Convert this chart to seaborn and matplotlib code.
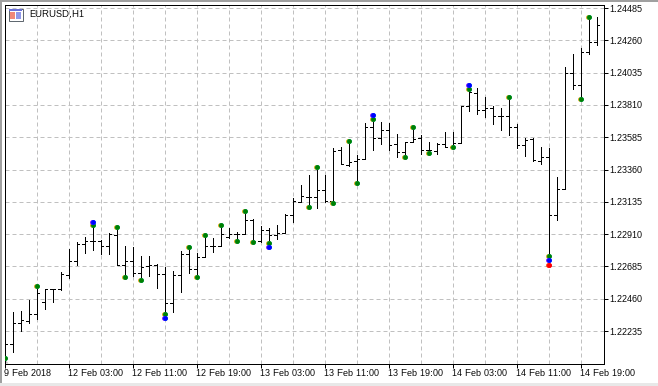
#!/usr/bin/env python3
"""EURUSD H1 bar chart with fractal-style dots, terminal look."""

import numpy as np
import pandas as pd
import matplotlib
matplotlib.use("Agg")
import matplotlib.pyplot as plt
import matplotlib.patches as mpatches
from matplotlib.transforms import ScaledTranslation
import seaborn as sns

SYMBOL = "EURUSD,H1"

OPEN = [1.22047, 1.22142, 1.22289, 1.22307, 1.22351, 1.22439, 1.22526, 1.22526, 1.22625, 1.22723,
        1.22841, 1.22864, 1.22864, 1.22827, 1.22904, 1.22695, 1.22725, 1.22637, 1.22688, 1.22697,
        1.22630, 1.22428, 1.22625, 1.22772, 1.22665, 1.22749, 1.22825, 1.22825, 1.22890, 1.22909,
        1.22909, 1.23009, 1.22860, 1.22937, 1.22902, 1.22916, 1.23044, 1.23132, 1.23167, 1.23167,
        1.23215, 1.23139, 1.23494, 1.23394, 1.23417, 1.23431, 1.23654, 1.23578, 1.23633, 1.23536,
        1.23480, 1.23550, 1.23577, 1.23498, 1.23491, 1.23536, 1.23519, 1.23543, 1.23805, 1.23895,
        1.23772, 1.23786, 1.23731, 1.23731, 1.23659, 1.23529, 1.23573, 1.23417, 1.23447, 1.23044,
        1.23224, 1.24030, 1.23947, 1.24176, 1.24246]
HIGH = [1.22145, 1.22365, 1.22374, 1.22451, 1.22546, 1.22526, 1.22530, 1.22644, 1.22804, 1.22853,
        1.22892, 1.22997, 1.22868, 1.22916, 1.22958, 1.22827, 1.22818, 1.22758, 1.22758, 1.22702,
        1.22679, 1.22653, 1.22795, 1.22823, 1.22777, 1.22902, 1.22881, 1.22972, 1.22951, 1.22923,
        1.23069, 1.23013, 1.22965, 1.22951, 1.22972, 1.23048, 1.23160, 1.23252, 1.23320, 1.23376,
        1.23320, 1.23508, 1.23515, 1.23557, 1.23459, 1.23682, 1.23738, 1.23689, 1.23682, 1.23605,
        1.23550, 1.23654, 1.23601, 1.23552, 1.23547, 1.23621, 1.23621, 1.23805, 1.23951, 1.23928,
        1.23865, 1.23805, 1.23786, 1.23863, 1.23675, 1.23580, 1.23580, 1.23515, 1.23510, 1.23308,
        1.24072, 1.24163, 1.24204, 1.24420, 1.24420]
LOW = [1.22047, 1.22091, 1.22237, 1.22293, 1.22321, 1.22388, 1.22439, 1.22521, 1.22606, 1.22695,
       1.22781, 1.22800, 1.22772, 1.22772, 1.22695, 1.22609, 1.22618, 1.22593, 1.22618, 1.22537,
       1.22323, 1.22369, 1.22509, 1.22641, 1.22609, 1.22749, 1.22788, 1.22825, 1.22881, 1.22860,
       1.22909, 1.22853, 1.22853, 1.22818, 1.22874, 1.22916, 1.22992, 1.23132, 1.23097, 1.23095,
       1.23134, 1.23125, 1.23396, 1.23383, 1.23264, 1.23431, 1.23496, 1.23536, 1.23496, 1.23450,
       1.23445, 1.23550, 1.23468, 1.23473, 1.23468, 1.23515, 1.23515, 1.23543, 1.23770, 1.23749,
       1.23728, 1.23680, 1.23638, 1.23603, 1.23508, 1.23457, 1.23417, 1.23396, 1.22697, 1.23009,
       1.23224, 1.23919, 1.23849, 1.24163, 1.24225]
CLOSE = [1.22145, 1.22289, 1.22312, 1.22351, 1.22498, 1.22526, 1.22526, 1.22632, 1.22723, 1.22841,
         1.22864, 1.22864, 1.22827, 1.22911, 1.22695, 1.22725, 1.22637, 1.22679, 1.22697, 1.22630,
         1.22428, 1.22625, 1.22772, 1.22665, 1.22749, 1.22825, 1.22825, 1.22909, 1.22909, 1.22909,
         1.23009, 1.22860, 1.22937, 1.22902, 1.22916, 1.23044, 1.23139, 1.23174, 1.23167, 1.23215,
         1.23139, 1.23487, 1.23396, 1.23410, 1.23431, 1.23654, 1.23578, 1.23633, 1.23529, 1.23480,
         1.23550, 1.23571, 1.23498, 1.23498, 1.23536, 1.23519, 1.23543, 1.23805, 1.23902, 1.23772,
         1.23786, 1.23731, 1.23731, 1.23659, 1.23529, 1.23566, 1.23424, 1.23447, 1.23044, 1.23224,
         1.24030, 1.23947, 1.24176, 1.24246, 1.24365]

GREEN_BARS = [0, 4, 11, 14, 15, 17, 20, 23, 24, 25, 27, 29, 30, 31, 33, 38, 39, 41, 43, 44, 46, 50, 51,
              53, 56, 58, 63, 68, 72, 73]
GREEN_VALS = [1.22047, 1.22546, 1.22972, 1.22958, 1.22609, 1.22593, 1.22353, 1.22823, 1.22609, 1.22902,
              1.22972, 1.22860, 1.23069, 1.22853, 1.22846, 1.23097, 1.23376, 1.23125, 1.23557, 1.23264,
              1.23710, 1.23445, 1.23654, 1.23473, 1.23515, 1.23923, 1.23863, 1.22756, 1.23849, 1.24420]
BLUE_BARS = [11, 20, 33, 46, 58, 68]
BLUE_VALS = [1.22997, 1.22323, 1.22818, 1.23738, 1.23951, 1.22728]
RED_BARS = [68]
RED_VALS = [1.22697]

Y_TICKS = [1.24485, 1.24260, 1.24035, 1.23810, 1.23585, 1.23360, 1.23135, 1.22910, 1.22685, 1.22460, 1.22235]
X_LABEL_BARS = [0, 8, 16, 24, 32, 40, 48, 56, 64, 72]
X_LABELS = ["9 Feb 2018", "12 Feb 03:00", "12 Feb 11:00", "12 Feb 19:00", "13 Feb 03:00",
            "13 Feb 11:00", "13 Feb 19:00", "14 Feb 03:00", "14 Feb 11:00", "14 Feb 19:00"]
X_GRID_BARS = list(range(4, 75, 4))

W, H = 658, 386
GRID = "#c0c0c0"
FONT = "Liberation Sans"
FONT_SIZE = 6.5
PX = 72 / 100   # one pixel in points


def bar_segments():
    # each bar: high-low stem, left tick for open, right tick for close
    rows = []
    for i in range(len(OPEN)):
        rows += [(f"{i}s", i, LOW[i]), (f"{i}s", i, HIGH[i])]
        rows += [(f"{i}o", i - 0.3, OPEN[i]), (f"{i}o", i, OPEN[i])]
        rows += [(f"{i}c", i, CLOSE[i]), (f"{i}c", i + 0.3, CLOSE[i])]
    return pd.DataFrame(rows, columns=["unit", "x", "price"])


def dots(ax, bars, vals, color, left, right):
    df = pd.DataFrame({"x": bars, "price": vals})
    base = ax.transData
    for dx, col in [(-0.8, left), (0.8, right), (0, color)]:
        offset = ScaledTranslation(dx / 100, 0, ax.figure.dpi_scale_trans)
        sns.scatterplot(data=df, x="x", y="price", ax=ax, color=col, s=12,
                        linewidth=0, marker="o", legend=False, zorder=5,
                        transform=base + offset)


sns.set_theme(style="white")
plt.rcParams["font.family"] = [FONT, "DejaVu Sans"]
plt.rcParams["text.hinting"] = "native"
plt.rcParams["text.hinting_factor"] = 1

fig = plt.figure(figsize=(W / 100, H / 100), dpi=100, facecolor="white")
ax = fig.add_axes([4.5 / W, 1 - 363.5 / H, 599 / W, 359 / H])
ax.set_facecolor("white")

# window edges around the chart
fig.patches.append(mpatches.Rectangle((0, 1 - 2 / H), 1, 2 / H, transform=fig.transFigure, color="#a0a0a0", lw=0))
fig.patches.append(mpatches.Rectangle((0, 0), 2 / W, 1, transform=fig.transFigure, color="#a0a0a0", lw=0))
fig.patches.append(mpatches.Rectangle((0, 0), 1, 3 / H, transform=fig.transFigure, color="#e8e8e8", lw=0))

for y in Y_TICKS:
    ax.axhline(y, color=GRID, lw=PX, ls=(0, (4, 3)), zorder=1)
for b in X_GRID_BARS:
    ax.axvline(b, color=GRID, lw=PX, ls=(0, (4, 3)), zorder=1)

sns.lineplot(data=bar_segments(), x="x", y="price", units="unit", estimator=None, ax=ax,
             color="black", lw=PX * 0.95, antialiased=False, legend=False, zorder=3,
             solid_capstyle="butt")

dots(ax, GREEN_BARS, GREEN_VALS, "#008000", "#d8a000", "#00c8c8")
dots(ax, BLUE_BARS, BLUE_VALS, "#0000ff", "#8000ff", "#0080ff")
dots(ax, RED_BARS, RED_VALS, "#ff0000", "#ff4000", "#ff2040")

ax.set_xlim(0, 599 / 8)
ax.set_ylim(1.24541 - 0.00006966 * 363.5, 1.24541 - 0.00006966 * 4.5)
ax.set_xlabel("")
ax.set_ylabel("")

ax.yaxis.tick_right()
ax.set_yticks(Y_TICKS)
ax.set_yticklabels([f"{v:.5f}" for v in Y_TICKS])
ax.set_xticks(X_LABEL_BARS)
ax.set_xticklabels(X_LABELS, ha="left")
ax.tick_params(axis="both", direction="out", length=4 * PX, width=PX, color="black",
               labelsize=FONT_SIZE, labelcolor="black", pad=1.5, bottom=True, right=True, left=False)
ax.tick_params(axis="x", pad=1.2)
for side in ax.spines.values():
    side.set_color("black")
    side.set_linewidth(PX)

# shift marker in the bottom corner
ax.add_patch(mpatches.Polygon([(0, 0), (0, 5 / 359), (4 / 599, 0)], closed=True, transform=ax.transAxes,
                              facecolor="#c0c0c0", edgecolor="none", zorder=2))

# little table icon + symbol name
def px_rect(x, y, w, h, fc, ec="none"):
    fig.add_artist(mpatches.Rectangle((x / W, 1 - (y + h) / H), w / W, h / H, transform=fig.transFigure,
                                      facecolor=fc, edgecolor=ec, lw=PX))

px_rect(8.5, 8.5, 14, 12, "white", "#606870")
px_rect(9, 9, 13, 2, "#6a70d8")
px_rect(10, 12, 5, 7, "#f08878")
px_rect(16, 12, 5, 7, "#9098e8")
fig.text(29 / W, 1 - 15 / H, SYMBOL, fontsize=FONT_SIZE, color="black", ha="left", va="center")

fig.savefig("out.png", dpi=100, facecolor="white")
